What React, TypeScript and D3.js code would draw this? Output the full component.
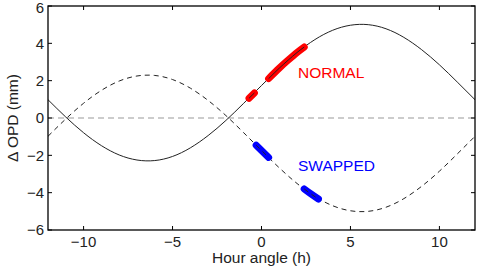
import React from 'react';
import * as d3 from 'd3';

// hour angle samples (h) and Δ OPD readings (mm) for the two configurations
const hours = [-12, -11, -10, -9, -8, -7, -6, -5, -4, -3, -2, -1, 0, 1, 2, 3, 4, 5, 6, 7, 8, 9, 10, 11, 12];
const normalOpd = [0.98, 0.05, -0.79, -1.48, -1.98, -2.25, -2.28, -2.06, -1.6, -0.94, -0.13, 0.79, 1.74, 2.67, 3.51, 4.2, 4.7, 4.97, 5.0, 4.78, 4.32, 3.66, 2.85, 1.93, 0.98];
const swappedOpd = [-0.98, -0.05, 0.79, 1.48, 1.98, 2.25, 2.28, 2.06, 1.6, 0.94, 0.13, -0.79, -1.74, -2.67, -3.51, -4.2, -4.7, -4.97, -5.0, -4.78, -4.32, -3.66, -2.85, -1.93, -0.98];

// measured segments
const normalMeas: [number, number][][] = [
  [[-0.7, 1.06], [-0.4, 1.34]],
  [[0.4, 2.11], [1.0, 2.67], [1.5, 3.1], [2.0, 3.51], [2.4, 3.8]],
];
const swappedMeas: [number, number][][] = [
  [[-0.3, -1.46], [0.0, -1.74], [0.4, -2.11]],
  [[2.4, -3.8], [2.8, -4.08], [3.2, -4.34]],
];

const xTicks = [-10, -5, 0, 5, 10];
const yTicks = [-6, -4, -2, 0, 2, 4, 6];

const W = 479;
const H = 269;
const m = { left: 48, right: 4, top: 6, bottom: 39 };
const font = 'Liberation Sans, Arial, Helvetica, sans-serif';

export default function App() {
  const x = d3.scaleLinear().domain([-12, 12]).range([m.left, W - m.right]);
  const y = d3.scaleLinear().domain([-6, 6]).range([H - m.bottom, m.top]);

  const line = d3.line<[number, number]>()
    .x((d) => x(d[0]))
    .y((d) => y(d[1]))
    .curve(d3.curveNatural);

  const normalPts = hours.map((h, i) => [h, normalOpd[i]] as [number, number]);
  const swappedPts = hours.map((h, i) => [h, swappedOpd[i]] as [number, number]);

  const x0 = m.left, x1 = W - m.right, y0 = m.top, y1 = H - m.bottom;
  const tl = 4;

  return (
    <svg width={W} height={H} style={{ position: 'absolute', left: 0, top: 0, background: '#fff' }} fontFamily={font}>
      <defs>
        <clipPath id="plot">
          <rect x={x0} y={y0} width={x1 - x0} height={y1 - y0} />
        </clipPath>
      </defs>
      <line x1={x0} x2={x1} y1={y(0)} y2={y(0)} stroke="#999" strokeWidth={1} strokeDasharray="6,4" />
      <g clipPath="url(#plot)">
        <path d={line(normalPts) || ''} fill="none" stroke="#222" strokeWidth={1} />
        <path d={line(swappedPts) || ''} fill="none" stroke="#222" strokeWidth={1} strokeDasharray="5,4" />
        {normalMeas.map((s, i) => (
          <path key={'n' + i} d={line(s) || ''} fill="none" stroke="#f00" strokeWidth={7} strokeLinecap="round" />
        ))}
        {swappedMeas.map((s, i) => (
          <path key={'s' + i} d={line(s) || ''} fill="none" stroke="#00f" strokeWidth={7} strokeLinecap="round" />
        ))}
        {normalMeas.map((s, i) => (
          <path key={'nl' + i} d={line(s) || ''} fill="none" stroke="#222" strokeWidth={1} />
        ))}
        {swappedMeas.map((s, i) => (
          <path key={'sl' + i} d={line(s) || ''} fill="none" stroke="#222" strokeWidth={1} strokeDasharray="5,4" />
        ))}
      </g>
      <rect x={x0} y={y0} width={x1 - x0} height={y1 - y0} fill="none" stroke="#000" strokeWidth={1.3} />
      {xTicks.map((t) => (
        <g key={'x' + t}>
          <line x1={x(t)} x2={x(t)} y1={y1} y2={y1 - tl} stroke="#000" />
          <line x1={x(t)} x2={x(t)} y1={y0} y2={y0 + tl} stroke="#000" />
          <text x={x(t)} y={y1 + 17} textAnchor="middle" fontSize={15} fill="#222">
            {t < 0 ? '\u2212' + Math.abs(t) : t}
          </text>
        </g>
      ))}
      {yTicks.map((t) => (
        <g key={'y' + t}>
          <line x1={x0} x2={x0 + tl} y1={y(t)} y2={y(t)} stroke="#000" />
          <line x1={x1} x2={x1 - tl} y1={y(t)} y2={y(t)} stroke="#000" />
          <text x={x0 - 4} y={Math.max(y(t), 8)} dy="0.36em" textAnchor="end" fontSize={15} fill="#222">
            {t < 0 ? '\u2212' + Math.abs(t) : t}
          </text>
        </g>
      ))}
      <text x={(x0 + x1) / 2} y={H - 6} textAnchor="middle" fontSize={15.5} fill="#222">Hour angle (h)</text>
      <text transform={`translate(18,${(y0 + y1) / 2}) rotate(-90)`} textAnchor="middle" fontSize={15.5} fill="#222">
        {'\u0394 OPD (mm)'}
      </text>
      <text x={298} y={78} fontSize={15.5} fill="#f00">NORMAL</text>
      <text x={298} y={171} fontSize={15.5} fill="#00f">SWAPPED</text>
    </svg>
  );
}
